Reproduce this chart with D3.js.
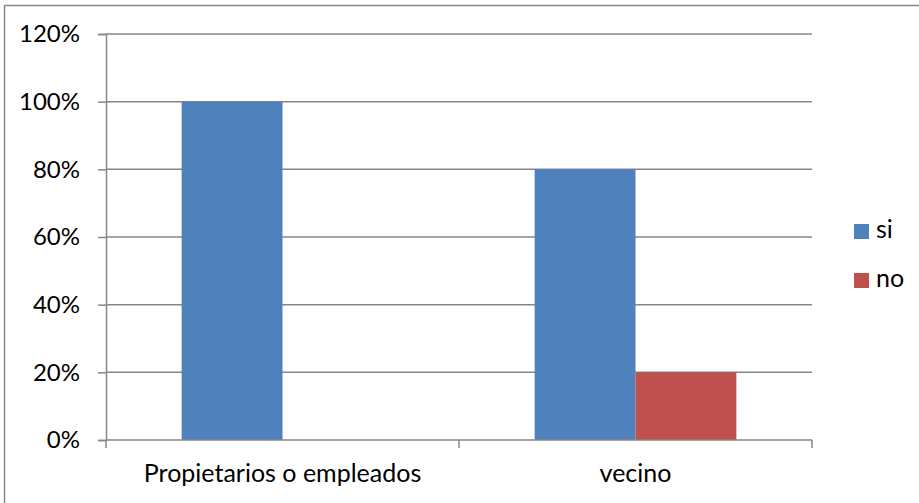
<!DOCTYPE html>
<html>
<head>
<meta charset="utf-8">
<script src="https://cdn.jsdelivr.net/npm/d3@7"></script>
<style>
  html, body { margin: 0; padding: 0; background: #fff; }
  svg { display: block; }
  text { font-family: Lato, "Open Sans", sans-serif; fill: #000; }
</style>
</head>
<body>
<svg id="chart" width="919" height="503"></svg>
<script>
// Respuestas por grupo (porcentaje)
const categories = ["Propietarios o empleados", "vecino"];
const seriesNames = ["si", "no"];
const siValues = [100, 80];
const noValues = [0, 20];
const yTicks = [0, 20, 40, 60, 80, 100, 120];

const colors = { si: "#4F81BD", no: "#C0504D" };
const gridColor = "#868686";
const yFontSize = 24;
const xFontSize = 25;

const svg = d3.select("#chart");
const plot = { left: 106, right: 812, top: 34, bottom: 440 };

// outer chart frame
svg.append("rect")
  .attr("x", 4.5).attr("y", 5.5)
  .attr("width", 1000).attr("height", 1000)
  .attr("fill", "none").attr("stroke", gridColor).attr("stroke-width", 1.5);

const x = d3.scaleBand()
  .domain(categories)
  .range([plot.left, plot.right]);

const y = d3.scaleLinear()
  .domain([0, 120])
  .range([plot.bottom, plot.top]);

// horizontal gridlines
svg.append("g")
  .selectAll("line")
  .data(yTicks.filter(t => t > 0))
  .join("line")
  .attr("x1", plot.left).attr("x2", plot.right)
  .attr("y1", d => y(d)).attr("y2", d => y(d))
  .attr("stroke", gridColor).attr("stroke-width", 1.5);

// bars: two per category, gap 150% of a bar width
const barW = x.bandwidth() / 3.5;
const rows = categories.map((c, i) => ({ cat: c, si: siValues[i], no: noValues[i] }));
seriesNames.forEach((s, si) => {
  svg.append("g")
    .selectAll("rect")
    .data(rows.filter(r => r[s] > 0))
    .join("rect")
    .attr("x", r => x(r.cat) + x.bandwidth() / 2 - barW + si * barW)
    .attr("y", r => y(r[s]))
    .attr("width", barW)
    .attr("height", r => y(0) - y(r[s]))
    .attr("fill", colors[s]);
});

// y axis
const yAxis = svg.append("g")
  .attr("transform", `translate(${plot.left},0)`)
  .call(d3.axisLeft(y).tickValues(yTicks).tickFormat(d => d + "%").tickSize(8).tickPadding(18));
yAxis.select(".domain").attr("stroke", gridColor).attr("stroke-width", 1.5);
yAxis.selectAll(".tick line").attr("stroke", gridColor).attr("stroke-width", 1.5);
yAxis.selectAll(".tick text")
  .attr("font-size", yFontSize)
  .attr("font-family", "Lato, sans-serif")
  .attr("fill", "#000");

// x axis
const xAxis = svg.append("g")
  .attr("transform", `translate(0,${plot.bottom})`)
  .call(d3.axisBottom(x).tickSize(0).tickPadding(24));
xAxis.select(".domain").remove();
xAxis.append("line")
  .attr("x1", plot.left).attr("x2", plot.right)
  .attr("stroke", gridColor).attr("stroke-width", 1.5);
xAxis.selectAll(".tick text")
  .attr("font-size", xFontSize)
  .attr("font-family", "Lato, sans-serif")
  .attr("fill", "#000");
// category boundary ticks
const bounds = [plot.left, ...categories.slice(1).map(c => x(c)), plot.right];
xAxis.selectAll(".bound")
  .data(bounds)
  .join("line")
  .attr("class", "bound")
  .attr("x1", d => d).attr("x2", d => d)
  .attr("y1", 0).attr("y2", 8)
  .attr("stroke", gridColor).attr("stroke-width", 1.5);

// legend
const legend = svg.append("g");
seriesNames.forEach((s, i) => {
  const ly = 224 + i * 49;
  legend.append("rect")
    .attr("x", 854).attr("y", ly)
    .attr("width", 15).attr("height", 15)
    .attr("fill", colors[s]);
  legend.append("text")
    .attr("x", 876).attr("y", ly + 14)
    .attr("font-size", xFontSize)
    .text(s);
});
</script>
</body>
</html>
